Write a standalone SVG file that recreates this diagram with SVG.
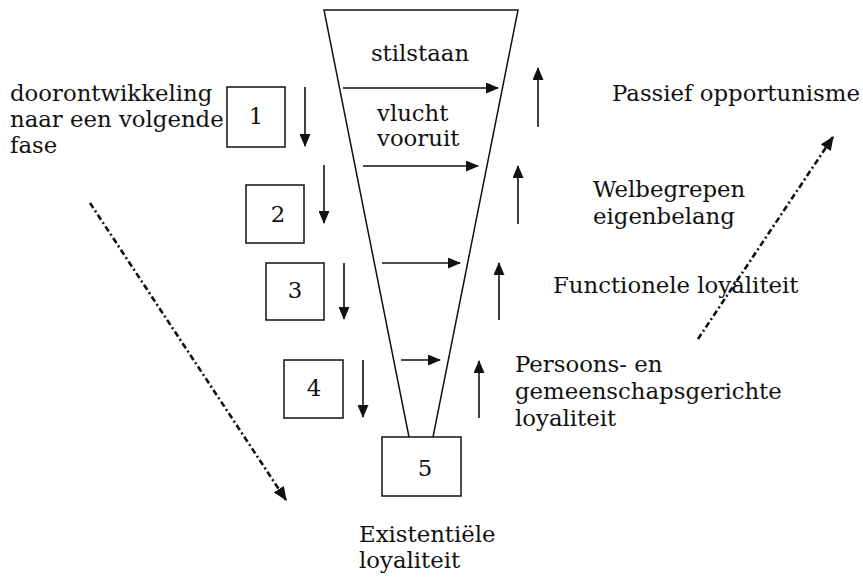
<svg xmlns="http://www.w3.org/2000/svg" width="863" height="577" viewBox="0 0 863 577">
<style>
text{font-family:"DejaVu Serif","Liberation Serif",serif;font-size:22.8px;fill:#111}
.box{fill:#fff;stroke:#111;stroke-width:1.5}
.ar{stroke:#111;stroke-width:1.6;fill:none;marker-end:url(#ah)}
.dd{stroke:#111;stroke-width:2.6;fill:none;stroke-dasharray:6 3 2 3;marker-end:url(#ahb)}
.fn{stroke:#111;stroke-width:1.5;fill:none}
.c{text-anchor:middle}
</style>
<defs>
<marker id="ah" markerUnits="userSpaceOnUse" markerWidth="13" markerHeight="11" refX="12" refY="5.5" orient="auto"><path d="M0,0 L13,5.5 L0,11 Z" fill="#111"/></marker>
<marker id="ahb" markerUnits="userSpaceOnUse" markerWidth="14" markerHeight="12" refX="13" refY="6" orient="auto"><path d="M0,0 L14,6 L0,12 Z" fill="#111"/></marker>
</defs>
<g id="funnel">
<path class="fn" d="M409,437 L324,10 L518,10 L433,437"/>
<text class="c" x="420" y="61">stilstaan</text>
<text x="377" y="121">vlucht</text>
<text x="377" y="146">vooruit</text>
</g>
<g id="node1"><rect class="box" x="227" y="87" width="58" height="60"/><text class="c" x="256" y="124">1</text></g>
<g id="node2"><rect class="box" x="246" y="185" width="58" height="58"/><text class="c" x="278" y="222">2</text></g>
<g id="node3"><rect class="box" x="266" y="263" width="58" height="57"/><text class="c" x="295" y="298">3</text></g>
<g id="node4"><rect class="box" x="284" y="360" width="59" height="58"/><text class="c" x="314" y="396">4</text></g>
<g id="node5"><rect class="box" x="382" y="437" width="79" height="59"/><text class="c" x="425" y="476">5</text></g>
<g id="labels">
<text x="10" y="101">doorontwikkeling</text>
<text x="10" y="127">naar een volgende</text>
<text x="10" y="153">fase</text>
<text x="612" y="101">Passief opportunisme</text>
<text x="593" y="197">Welbegrepen</text>
<text x="593" y="224">eigenbelang</text>
<text x="553" y="293">Functionele loyaliteit</text>
<text x="515" y="372">Persoons- en</text>
<text x="515" y="399">gemeenschapsgerichte</text>
<text x="515" y="426">loyaliteit</text>
<text x="359" y="542">Existentiële</text>
<text x="359" y="568">loyaliteit</text>
</g>
<g id="connectors">
<line class="ar" x1="343" y1="88" x2="498" y2="88"/>
<line class="ar" x1="363" y1="166" x2="478" y2="166"/>
<line class="ar" x1="382" y1="263" x2="460" y2="263"/>
<line class="ar" x1="401" y1="360" x2="440" y2="360"/>
<line class="ar" x1="305" y1="87" x2="305" y2="146"/>
<line class="ar" x1="324" y1="165" x2="324" y2="223"/>
<line class="ar" x1="344" y1="263" x2="344" y2="319"/>
<line class="ar" x1="363" y1="360" x2="363" y2="417"/>
<line class="ar" x1="538" y1="127" x2="538" y2="68"/>
<line class="ar" x1="518" y1="224" x2="518" y2="166"/>
<line class="ar" x1="499" y1="320" x2="499" y2="263"/>
<line class="ar" x1="479" y1="418" x2="479" y2="361"/>
<line class="dd" x1="90" y1="203" x2="286" y2="500"/>
<line class="dd" x1="698" y1="339" x2="833" y2="137"/>
</g>
</svg>
